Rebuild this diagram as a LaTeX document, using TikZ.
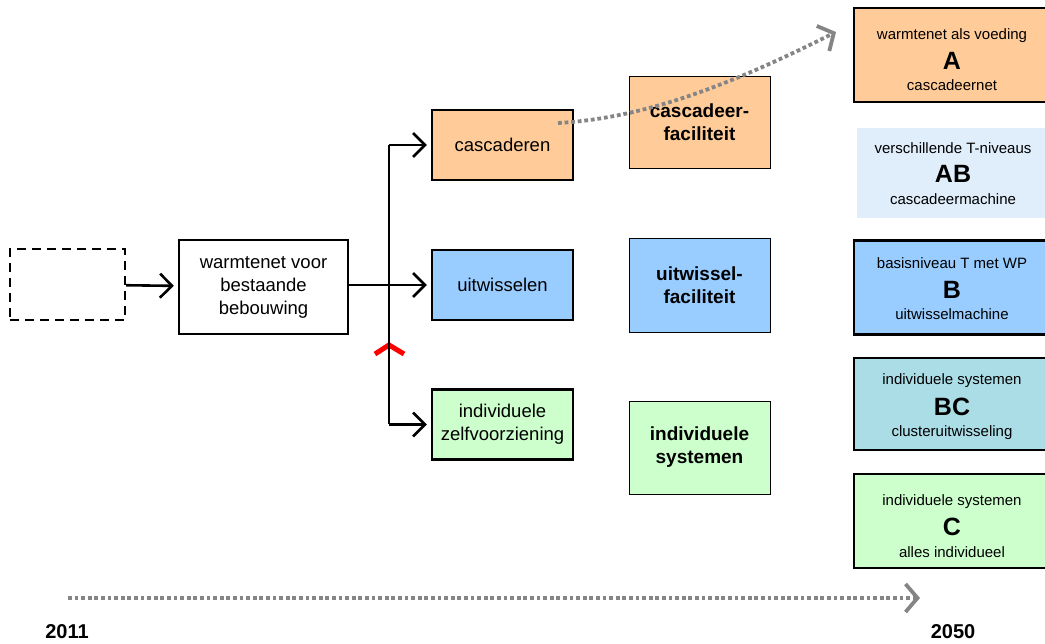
\documentclass[tikz,border=0pt]{standalone}
\usepackage{fontspec}
\setmainfont{Liberation Sans}
\usetikzlibrary{arrows.meta,positioning}
\definecolor{orangebox}{HTML}{FFCC99}
\definecolor{bluebox}{HTML}{99CCFF}
\definecolor{greenbox}{HTML}{CCFFCC}
\definecolor{abbox}{HTML}{E0EDFA}
\definecolor{bcbox}{HTML}{ABDDE6}
\definecolor{timegray}{HTML}{858585}
\newcommand{\scen}[4][21pt]{\rule{0pt}{#1}#2\\[9pt]{\fontsize{25}{25}\selectfont\bfseries #3}\\[1pt]#4}
\tikzset{
  box/.style = {draw, line width=2.3pt, minimum width=141pt, minimum height=70pt,
                inner sep=0pt, align=center, font=\fontsize{18.5}{23}\selectfont},
  facility/.style = {box, line width=0.9pt, minimum height=92pt,
                     font=\fontsize{19}{23}\selectfont\bfseries},
  scenario/.style = {draw, line width=2.3pt, minimum width=196pt, minimum height=94pt,
                     inner sep=0pt, align=center, font=\fontsize{15}{20.5}\selectfont},
  flow/.style = {line width=2.6pt, shorten >=4pt,
                 -{Straight Barb[length=12pt,width=24pt,line width=2.6pt]}},
  timeline/.style = {timegray, line width=3.8pt, dash pattern=on 3.8pt off 2.8pt,
                     -{Straight Barb[length=12pt,width=28pt,line width=3.8pt]}}
}
\begin{document}
\begin{tikzpicture}[x=1pt, y=-1pt]
   \useasboundingbox (0,0) rectangle (1045,644);
   % starting situation
   \node[box, dash pattern=on 9pt off 6pt, minimum width=115pt, minimum height=71pt] (prev) at (67.5,284.5) {};
   \node[box, minimum width=169pt, minimum height=94pt] (warm) at (263.5,287)
        {warmtenet voor\\bestaande\\bebouwing};
   % routes
   \node[box, fill=orangebox] (casc) at (502.5,145) {cascaderen};
   \node[box, fill=bluebox] (uitw) at (502.5,285) {uitwisselen};
   \node[box, fill=greenbox] (indiv) at (502.5,424.5) {individuele\\zelfvoorziening};
   % facilities
   \node[facility, fill=orangebox] (cfac) at (699.5,122) {cascadeer-\\faciliteit};
   \node[facility, fill=bluebox, minimum height=94pt] (ufac) at (699.5,285) {uitwissel-\\faciliteit};
   \node[facility, fill=greenbox, minimum height=93pt] (isys) at (699.5,447.5) {individuele\\systemen};
   % scenarios 2050
   \node[scenario, fill=orangebox] (A) at (952,55)
        {\scen{warmtenet als voeding}{A}{cascadeernet}};
   \node[scenario, draw=none, fill=abbox, minimum width=192pt, minimum height=90pt] (AB) at (953,173)
        {\scen[12pt]{verschillende T-niveaus}{AB}{cascadeermachine}};
   \node[scenario, fill=bluebox] (B) at (952,287.5)
        {\scen[14pt]{basisniveau T met WP}{B}{uitwisselmachine}};
   \node[scenario, fill=bcbox, minimum height=92pt] (BC) at (952,404)
        {\scen[17pt]{individuele systemen}{BC}{clusteruitwisseling}};
   \node[scenario, fill=greenbox] (C) at (952,521)
        {\scen{individuele systemen}{C}{alles individueel}};
   % years
   \node[font=\fontsize{20}{20}\selectfont\bfseries] (y2011) at (67,632) {2011};
   \node[font=\fontsize{20}{20}\selectfont\bfseries] (y2050) at (953,632) {2050};
   \coordinate (tstart) at (68,598);
   \coordinate (tend) at (920,598);
   \coordinate (top) at (389,145);
   \coordinate (bot) at (389,424.5);
   \coordinate (goal) at (836,32);
   \coordinate (curvestart) at (558,123);

   \draw[red, line width=5pt, miter limit=4] (375,354) -- (389,345) -- (404,354);
   \draw[flow] (prev) -- (warm);
   \draw[flow] (warm.east |- uitw) -- (uitw);
   \draw[line width=2.6pt] (top) -- (bot);
   \draw[flow] (top) -- (casc);
   \draw[flow] (bot) -- (indiv);
   \draw[timeline] (curvestart) .. controls (650,118) and (740,80) .. (goal);
   \draw[timeline] (tstart) -- (tend);
\end{tikzpicture}
\end{document}
